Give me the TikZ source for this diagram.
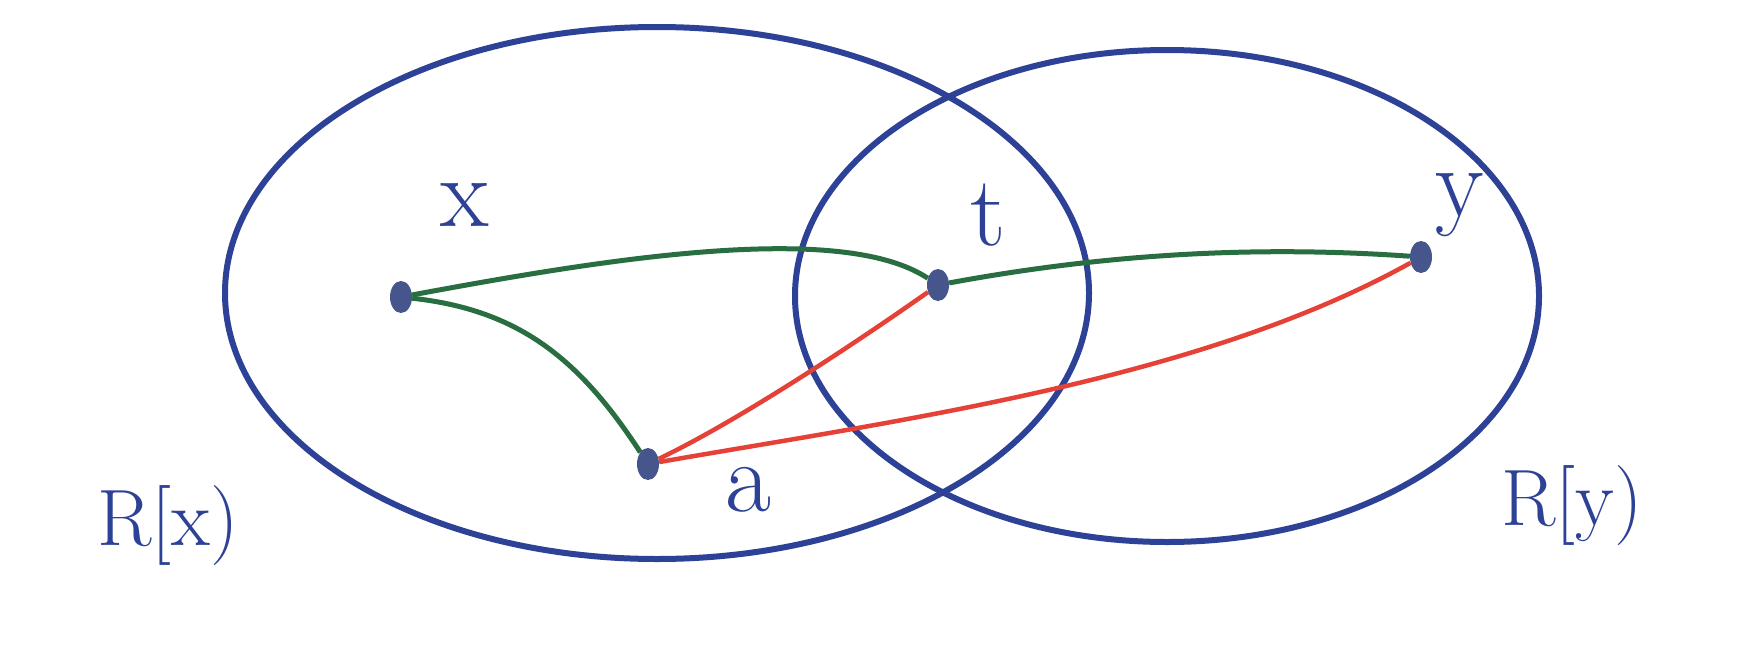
\documentclass[tikz,border=0pt]{standalone}
\usepackage{fontspec}
\usetikzlibrary{shapes.geometric}
\begin{document}
\begin{tikzpicture}[x=1pt,y=-1pt,
  ring/.style={draw=ringblue,line width=6pt},
  gedge/.style={draw=edgegreen,line width=5pt},
  redge/.style={draw=edgered,line width=4.5pt},
  dot/.style={ellipse,fill=dotblue,inner sep=0pt,minimum width=22pt,minimum height=32pt},
  lbl/.style={text=ringblue,font=\fontsize{100}{110}\selectfont,inner sep=0pt},
  rlbl/.style={text=ringblue,font=\fontsize{80}{90}\selectfont,inner sep=0pt}]
\definecolor{ringblue}{RGB}{45,65,150}
\definecolor{edgegreen}{RGB}{40,110,65}
\definecolor{edgered}{RGB}{230,65,55}
\definecolor{dotblue}{RGB}{70,85,140}
\useasboundingbox (0,0) rectangle (1755,656);
\fill[white] (0,0) rectangle (1755,656);
\draw[ring] (657,293) ellipse [x radius=432, y radius=266];
\draw[ring] (1167,296) ellipse [x radius=372, y radius=246];
\node[dot] (x) at (401,297) {};
\node[dot] (t) at (938,285) {};
\node[dot] (y) at (1421,257) {};
\node[dot] (a) at (648,464) {};
\draw[gedge] (x) .. controls (600,260) and (840,220) .. (t);
\draw[gedge] (t) .. controls (1100,255) and (1250,245) .. (y);
\draw[gedge] (x) .. controls (520,310) and (580,360) .. (a);
\draw[redge] (a) .. controls (740,420) and (860,340) .. (t);
\draw[redge] (a) .. controls (900,420) and (1200,380) .. (y);
\node[lbl] (xl) at (465,205) {x};
\node[lbl] (tl) at (988,215) {t};
\node[lbl] (yl) at (1460,205) {y};
\node[lbl] (al) at (748,490) {a};
\node[rlbl] (rx) at (168,526) {R[x)};
\node[rlbl] (ry) at (1572,506) {R[y)};
\end{tikzpicture}
\end{document}
